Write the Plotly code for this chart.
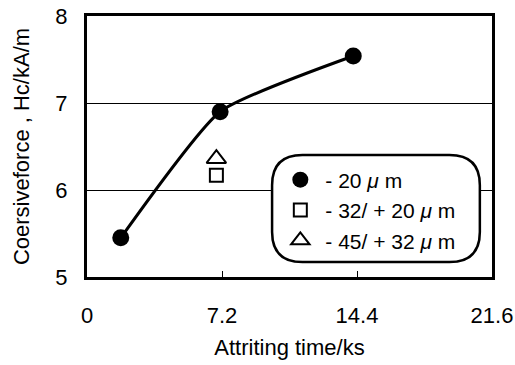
import plotly.graph_objects as go

# Data
time_fine = [1.8, 7.1, 14.2]
hc_fine = [5.45, 6.9, 7.54]
time_mid = [6.9]
hc_mid = [6.17]
time_coarse = [6.9]
hc_coarse = [6.36]
x_ticks = [0, 7.2, 14.4, 21.6]
x_tick_labels = ["0", "7.2", "14.4", "21.6"]
y_ticks = [5, 6, 7, 8]

font = "Liberation Sans, Arial, sans-serif"

fig = go.Figure()
fig.add_trace(go.Scatter(x=time_fine, y=hc_fine, mode="lines", line=dict(color="black", width=3, shape="spline", smoothing=0.5),
                         showlegend=False, hoverinfo="skip"))
fig.add_trace(go.Scatter(x=time_fine, y=hc_fine, mode="markers", name="- 20 <i>μ</i> m",
                         marker=dict(symbol="circle", size=17, color="black")))
fig.add_trace(go.Scatter(x=time_mid, y=hc_mid, mode="markers", name="- 32/ + 20 <i>μ</i> m",
                         marker=dict(symbol="square-open", size=13, color="black", line=dict(width=2))))
fig.add_trace(go.Scatter(x=time_coarse, y=hc_coarse, mode="markers", name="- 45/ + 32 <i>μ</i> m",
                         marker=dict(symbol="triangle-up-open", size=17, color="black", line=dict(width=2))))

# rounded legend box
x0, x1, y0, y1 = 0.457, 0.970, 0.057, 0.467
rx, ry = 0.075, 0.115
path = (f"M {x0+rx},{y0} L {x1-rx},{y0} Q {x1},{y0} {x1},{y0+ry} L {x1},{y1-ry} Q {x1},{y1} {x1-rx},{y1} "
        f"L {x0+rx},{y1} Q {x0},{y1} {x0},{y1-ry} L {x0},{y0+ry} Q {x0},{y0} {x0+rx},{y0} Z")
fig.add_shape(type="path", path=path, xref="paper", yref="paper", fillcolor="white",
              line=dict(color="black", width=2.5), layer="above")

fig.update_layout(
    width=515, height=365,
    margin=dict(l=87, r=23, t=16, b=88, autoexpand=False),
    paper_bgcolor="white", plot_bgcolor="white",
    font=dict(family=font, size=22, color="black"),
    showlegend=True,
    legend=dict(x=0.465, y=0.45, xanchor="left", yanchor="top", bgcolor="rgba(0,0,0,0)",
                font=dict(size=21), itemwidth=40, tracegroupgap=0),
    xaxis=dict(range=[0, 21.6], tickvals=x_ticks, ticktext=x_tick_labels, ticks="inside", ticklen=6,
               tickcolor="black", tickwidth=1, showgrid=False, zeroline=False,
               showline=True, linecolor="black", linewidth=3, mirror=True, automargin=False,
               ticklabelstandoff=17,
               title=dict(text="Attriting time/ks", font=dict(size=22), standoff=13)),
    yaxis=dict(range=[5, 8], tickvals=y_ticks, ticks="", showgrid=True, gridcolor="black", gridwidth=1,
               zeroline=False, showline=True, linecolor="black", linewidth=3, mirror=True, automargin=False,
               ticklabelstandoff=12,
               title=dict(text="Coersiveforce , Hc/kA/m", font=dict(size=22), standoff=20)),
)

fig.write_html("out.html", config={"displayModeBar": False},
               post_script="document.body.style.margin='0';")
